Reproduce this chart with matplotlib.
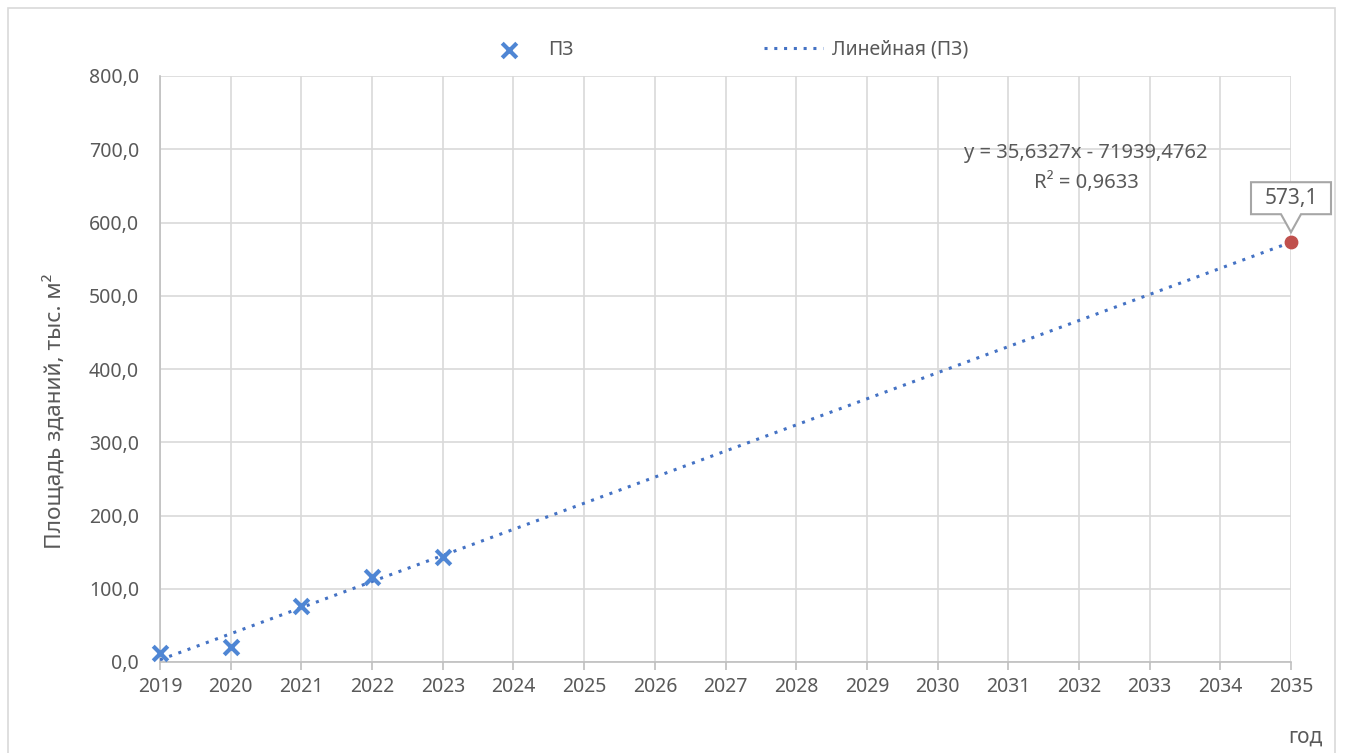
import matplotlib
matplotlib.use("Agg")
import matplotlib.pyplot as plt
import matplotlib.transforms as mtransforms
from matplotlib.patches import Polygon, Rectangle
import numpy as np

# ---- data ----
years = [2019, 2020, 2021, 2022, 2023]
area = [12.3, 20.2, 76.8, 116.0, 143.5]
series_name = "ПЗ"
trend_name = "Линейная (ПЗ)"
slope = 35.6327
intercept = -71939.4762
r2 = 0.9633
forecast_year = 2035
forecast_value = 573.1
x_ticks = list(range(2019, 2036))
y_ticks = [0, 100, 200, 300, 400, 500, 600, 700, 800]

TXT = "#595959"
BLUE = "#4F86D4"
TREND = "#4472C4"
GRID = "#d9d9d9"

plt.rcParams['font.family'] = ['Noto Sans', 'DejaVu Sans']

W, H, DPI = 1352, 753, 100
fig = plt.figure(figsize=(W / DPI, H / DPI), dpi=DPI)
ax = fig.add_axes([160 / W, 1 - 662 / H, (1291 - 160) / W, (662 - 76) / H])

# outer chart frame
fig.patches.append(Rectangle((8 / W, -0.05), (1335 - 8) / W, 1.05 - 8 / H,
                             transform=fig.transFigure, fill=False,
                             ec=GRID, lw=1.2))

# trend line
tx = np.array([x_ticks[0], forecast_year], dtype=float)
line, = ax.plot(tx, slope * tx + intercept, linestyle=(0, (1, 2.2)), color=TREND,
                lw=2.2, label=trend_name, zorder=3)
# data points
sc = ax.scatter(years, area, marker='x', s=110, color=BLUE, linewidths=3,
                label=series_name, zorder=4, clip_on=False)
# forecast point
ax.scatter([forecast_year], [forecast_value], s=80, color="#C0504D", zorder=5,
           clip_on=False)

ax.set_xlim(x_ticks[0], x_ticks[-1])
ax.set_ylim(y_ticks[0], y_ticks[-1])
ax.set_xticks(x_ticks)
ax.set_yticks(y_ticks)
ax.set_yticklabels([f"{v:.1f}".replace('.', ',') for v in y_ticks])
ax.grid(True, color=GRID, lw=1.2)
ax.set_axisbelow(True)
for s in ['top', 'right']:
    ax.spines[s].set_visible(False)
for s in ['left', 'bottom']:
    ax.spines[s].set_color("#bfbfbf")
    ax.spines[s].set_linewidth(1.2)
ax.tick_params(axis='x', colors="#bfbfbf", length=6, width=1.2, direction='out',
               labelcolor=TXT, labelsize=14, pad=5)
ax.tick_params(axis='y', length=0, labelcolor=TXT, labelsize=14, pad=15)

ax.set_ylabel("Площадь зданий, тыс. м²", color=TXT, fontsize=16.3)
ax.yaxis.set_label_coords((66 - 160) / (1291 - 160), (662 - 411) / 586)
fig.text(1322 / W, 1 - 737 / H, "год", color=TXT, fontsize=15,
         ha='right', va='center')

# equation
ax.text(2032.1, 695, f"y = {slope:.4f}x - {abs(intercept):.4f}".replace('.', ','),
        color=TXT, fontsize=14.5, ha='center', va='center')
ax.text(2032.1, 655, f"R² = {r2:.4f}".replace('.', ','),
        color=TXT, fontsize=14.5, ha='center', va='center')

# callout label
trans = mtransforms.Affine2D() + mtransforms.ScaledTranslation(
    forecast_year, forecast_value, ax.transData)
bw, bh = 40, 16
cy = 44
pts = [(-bw, cy - bh), (-bw, cy + bh), (bw, cy + bh), (bw, cy - bh),
       (10, cy - bh), (0, 10), (-10, cy - bh)]
fig.patches.append(Polygon(pts, closed=True, transform=trans, fc='white',
                           ec="#a6a6a6", lw=1.5, zorder=6))
fig.text(0, 0, f"{forecast_value:.1f}".replace('.', ','),
         transform=trans + mtransforms.Affine2D().translate(-0, cy),
         color=TXT, fontsize=15, ha='center', va='center', zorder=7)

# legend
leg = ax.legend(handles=[sc, line], loc='center',
                bbox_to_anchor=(0.499, 1 + 26 / 586), ncol=2,
                frameon=False, fontsize=14, columnspacing=9.8,
                handlelength=3.0, handletextpad=0.5)
for t in leg.get_texts():
    t.set_color(TXT)

fig.savefig("out.png", dpi=DPI)
